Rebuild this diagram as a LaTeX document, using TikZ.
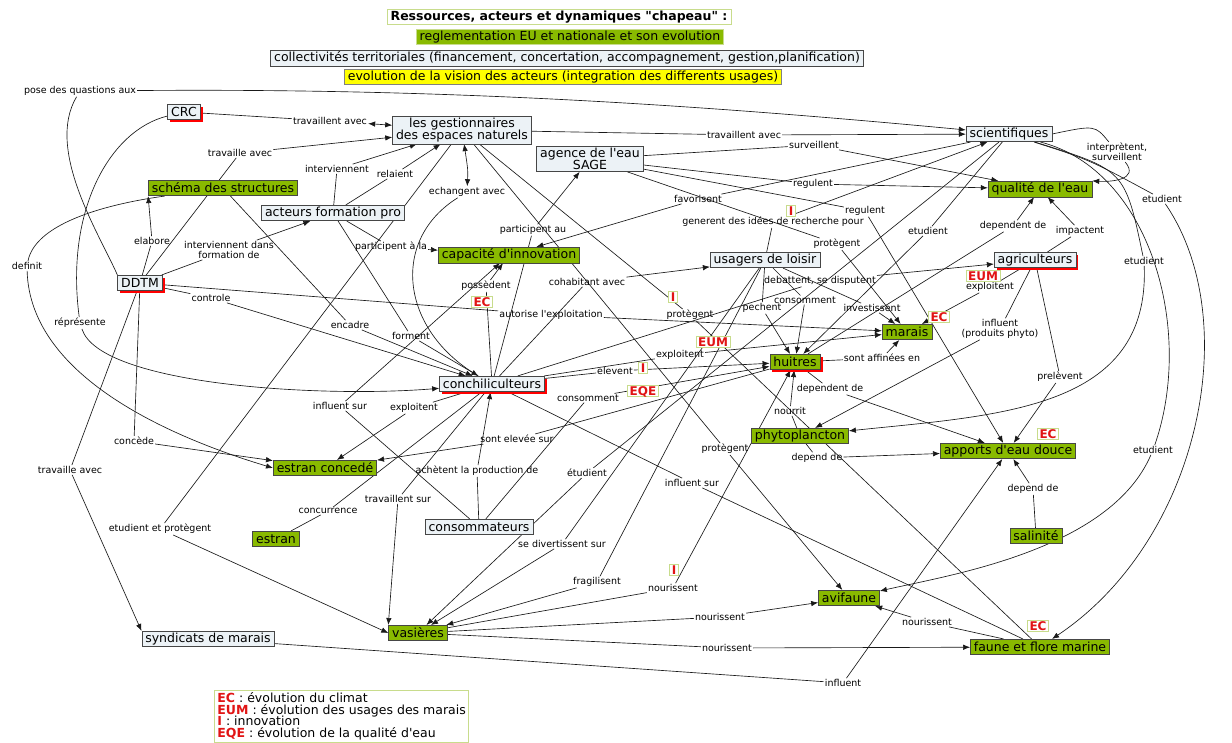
\documentclass[tikz,border=0pt]{standalone}
\usepackage{fontspec}
\setmainfont{DejaVu Sans}[Ligatures=TeXOff]
\usetikzlibrary{arrows.meta,shadows}

\definecolor{cmgreen}{RGB}{137,186,0}
\definecolor{cmlight}{RGB}{236,242,246}
\definecolor{cmborder}{RGB}{70,70,70}
\definecolor{cmtag}{RGB}{200,220,140}
\definecolor{cmred}{RGB}{225,20,20}
\definecolor{cmyellow}{RGB}{255,255,0}

\newcommand{\cmnodefont}{\fontsize{12.5}{12.5}\selectfont}
\newcommand{\cmlinkfont}{\fontsize{9.5}{10}\selectfont}
\newcommand{\cmtagfont}{\fontsize{12}{12}\selectfont\bfseries}
\newcommand{\cmlegendfont}{\fontsize{12.5}{11.7}\selectfont\lineskiplimit=-6pt}

\pgfdeclarelayer{bg}
\pgfsetlayers{bg,main}

\tikzset{
  concept/.style={draw=cmborder, line width=0.6pt, inner xsep=3.5pt, inner ysep=1.5pt,
    minimum height=15.5pt, font=\cmnodefont},
  greenbox/.style={concept, fill=cmgreen},
  greybox/.style={concept, fill=cmlight},
  redshadow/.style={drop shadow={shadow xshift=2.5pt, shadow yshift=-2.5pt, fill=red, opacity=1}},
  linklabel/.style={font=\cmlinkfont, inner sep=1pt, align=center},
  tagbox/.style={draw=cmtag, fill=white, text=cmred, font=\cmtagfont, line width=0.8pt,
    inner xsep=2pt, inner ysep=1pt, text height=8.8pt, text depth=0pt},
  link/.style={draw=black!90, line width=0.65pt, ->, >={Latex[length=7pt,width=5.5pt]}},
  bilink/.style={link, <->},
  plainlink/.style={draw=black!90, line width=0.65pt},
}

\begin{document}
\begin{tikzpicture}[x=1pt, y=-1pt]
  \useasboundingbox (0,0) rectangle (1232,742);

  % chapeau
  \node[concept, draw=cmtag, fill=white, font=\cmnodefont\bfseries] (title) at (559,17) {Ressources, acteurs et dynamiques "chapeau" :};
  \node[concept, draw=cmtag, fill=cmgreen] (regl) at (570,37) {reglementation EU et nationale et son evolution};
  \node[greybox] (collect) at (567,58) {collectivités territoriales (financement, concertation, accompagnement, gestion,planification)};
  \node[concept, draw=black!50, fill=cmyellow] (vision) at (563,77) {evolution de la vision des acteurs (integration des differents usages)};

  % acteurs
  \node[greybox, redshadow] (crc) at (184,112) {CRC};
  \node[greybox, align=center] (gest) at (462,130) {les gestionnaires\\des espaces naturels};
  \node[greybox, align=center] (agence) at (590,159) {agence de l'eau\\SAGE};
  \node[greybox] (sci) at (1009,134) {scientifiques};
  \node[greybox] (form) at (333,213) {acteurs formation pro};
  \node[greybox] (loisir) at (765,260) {usagers de loisir};
  \node[greybox, redshadow] (agri) at (1035,260) {agriculteurs};
  \node[greybox, redshadow] (ddtm) at (140,283) {DDTM};
  \node[greybox, redshadow] (conch) at (492,384) {conchiliculteurs};
  \node[greybox] (conso) at (479,527) {consommateurs};
  \node[greybox] (synd) at (208,639) {syndicats de marais};

  % ressources
  \node[greenbox] (qual) at (1040,189) {qualité de l'eau};
  \node[greenbox] (schema) at (223,188) {schéma des structures};
  \node[greenbox] (innov) at (509,255) {capacité d'innovation};
  \node[greenbox] (marais) at (907,332) {marais};
  \node[greenbox, redshadow] (huitres) at (795,362) {huitres};
  \node[greenbox] (phyto) at (800,436) {phytoplancton};
  \node[greenbox] (apports) at (1008,451) {apports d'eau douce};
  \node[greenbox] (estranc) at (325,468) {estran concedé};
  \node[greenbox] (estran) at (276,539) {estran};
  \node[greenbox] (sal) at (1036,536) {salinité};
  \node[greenbox] (avi) at (849,598) {avifaune};
  \node[greenbox] (vas) at (418,633) {vasières};
  \node[greenbox] (faune) at (1040,647) {faune et flore marine};

  % link labels
  \node[linklabel] (lpose) at (80,91) {pose des quastions aux};
  \node[linklabel] (ltrava) at (330,121) {travaillent avec};
  \node[linklabel] (ltravb) at (240,153) {travaille avec};
  \node[linklabel] (linterv) at (337,169) {interviennent};
  \node[linklabel] (lrelai) at (395,174) {relaient};
  \node[linklabel] (lechan) at (467,192) {echangent avec};
  \node[linklabel] (ltravc) at (744,135) {travaillent avec};
  \node[linklabel] (lsurv) at (814,145) {surveillent};
  \node[linklabel] (lregula) at (813,184) {regulent};
  \node[linklabel] (lregulb) at (865,211) {regulent};
  \node[linklabel] (lfavor) at (698,199) {favorisent};
  \node[linklabel] (lgener) at (773,222) {generent des idées de recherche pour};
  \node[linklabel] (lprota) at (837,244) {protègent};
  \node[linklabel] (linterp) at (1117,152) {interprètent,\\surveillent};
  \node[linklabel] (letuda) at (1162,199) {etudient};
  \node[linklabel] (letudb) at (1144,261) {etudient};
  \node[linklabel] (letudc) at (1153,450) {etudient};
  \node[linklabel] (letudd) at (928,231) {etudient};
  \node[linklabel] (ldepa) at (1013,226) {dependent de};
  \node[linklabel] (limpac) at (1080,231) {impactent};
  \node[linklabel] (lexpla) at (990,287) {exploitent};
  \node[linklabel] (linflu) at (1000,329) {influent\\(produits phyto)};
  \node[linklabel] (lprele) at (1060,377) {prelèvent};
  \node[linklabel] (lelab) at (152,241) {elabore};
  \node[linklabel] (lintfo) at (229,250) {interviennent dans\\formation de};
  \node[linklabel] (ldefin) at (27,266) {definit};
  \node[linklabel] (lrepr) at (80,323) {réprésente};
  \node[linklabel] (lcontr) at (211,298) {controle};
  \node[linklabel] (lencad) at (350,325) {encadre};
  \node[linklabel] (lforme) at (411,336) {forment};
  \node[linklabel] (lparta) at (391,247) {participent à la};
  \node[linklabel] (lpartb) at (533,230) {participent au};
  \node[linklabel] (lposse) at (486,286) {possèdent};
  \node[linklabel] (lautor) at (551,315) {autorise l'exploitation};
  \node[linklabel] (lcohab) at (587,282) {cohabitant avec};
  \node[linklabel] (ldebat) at (820,281) {debattent, se disputent};
  \node[linklabel] (lpeche) at (762,308) {pechent};
  \node[linklabel] (lconsa) at (805,300) {consomment};
  \node[linklabel] (linves) at (872,308) {investissent};
  \node[linklabel] (lprotb) at (690,315) {protègent};
  \node[linklabel] (lexplb) at (680,355) {exploitent};
  \node[linklabel] (lelev) at (615,371) {elevent};
  \node[linklabel] (lconsb) at (588,398) {consomment};
  \node[linklabel] (laffin) at (882,358) {sont affinées en};
  \node[linklabel] (ldepb) at (830,389) {dependent de};
  \node[linklabel] (lnourr) at (790,411) {nourrit};
  \node[linklabel] (ldepc) at (817,458) {depend de};
  \node[linklabel] (lprotc) at (725,449) {protègent};
  \node[linklabel] (linflb) at (692,483) {influent sur};
  \node[linklabel] (lexplc) at (414,408) {exploitent};
  \node[linklabel] (linflc) at (340,406) {influent sur};
  \node[linklabel] (lelevee) at (517,439) {sont elevée sur};
  \node[linklabel] (lachat) at (477,471) {achètent la production de};
  \node[linklabel] (ltravd) at (398,499) {travaillent sur};
  \node[linklabel] (lconcu) at (328,511) {concurrence};
  \node[linklabel] (letprot) at (160,529) {etudient et protègent};
  \node[linklabel] (ldiver) at (562,544) {se divertissent sur};
  \node[linklabel] (letude) at (587,473) {étudient};
  \node[linklabel] (lfragi) at (597,582) {fragilisent};
  \node[linklabel] (lnoura) at (673,588) {nourissent};
  \node[linklabel] (lnourb) at (720,617) {nourissent};
  \node[linklabel] (lnourc) at (727,648) {nourissent};
  \node[linklabel] (lnourd) at (927,622) {nourissent};
  \node[linklabel] (linfld) at (843,683) {influent};
  \node[linklabel] (ldepd) at (1033,489) {depend de};
  \node[linklabel] (ltrave) at (70,470) {travaille avec};
  \node[linklabel] (lconce) at (134,441) {concède};

  % connectors
  \begin{pgfonlayer}{bg}
    \draw[link] (ddtm.north west) .. controls (100,235) and (45,150) .. (lpose) .. controls (450,88) and (700,105) .. (sci);
    \draw[bilink] (crc) -- (ltrava) -- (gest);
    \draw[link] (ddtm) -- (ltravb) -- (gest);
    \draw[link] (form) -- (linterv) -- (gest);
    \draw[link] (form) -- (lrelai) -- (gest);
    \draw[bilink] (conch) .. controls (400,330) and (390,240) .. (lechan) .. controls (468,170) .. (gest);
    \draw[link] (gest) -- (ltravc) -- (sci);
    \draw[link] (agence) -- (lsurv) -- (qual);
    \draw[link] (agence) -- (lregula) -- (qual);
    \draw[link] (agence) -- (lregulb) -- (apports);
    \draw[link] (sci) -- (lfavor) -- (innov);
    \draw[link] (loisir) -- (lgener) -- (sci);
    \draw[link] (agence) -- (lprota) -- (marais);
    \draw[link] (sci.east) .. controls (1095,125) .. (linterp) .. controls (1140,180) and (1110,182) .. (qual.north east);
    \draw[link] (sci) .. controls (1090,160) .. (letuda) .. controls (1245,320) and (1200,540) .. (faune);
    \draw[link] (sci) .. controls (1125,170) .. (letudb) .. controls (1150,410) and (1000,415) .. (phyto);
    \draw[link] (sci) .. controls (1150,170) and (1195,330) .. (letudc) .. controls (1110,550) and (950,575) .. (avi);
    \draw[link] (sci) -- (letudd) -- (huitres);
    \draw[link] (huitres) -- (ldepa) -- (qual);
    \draw[link] (agri) -- (limpac) -- (qual);
    \draw[link] (agri) -- (lexpla) -- (marais);
    \draw[link] (agri) -- (linflu) -- (phyto);
    \draw[link] (agri) -- (lprele) -- (apports);
    \draw[link] (ddtm) -- (lelab) -- (schema.south west);
    \draw[link] (ddtm) -- (lintfo) -- (form);
    \draw[link] (schema) .. controls (100,205) and (35,225) .. (ldefin) .. controls (30,380) and (180,440) .. (estranc.west);
    \draw[link] (crc) .. controls (110,130) and (65,210) .. (lrepr) .. controls (100,385) and (320,398) .. (conch);
    \draw[link] (ddtm) -- (lcontr) -- (conch);
    \draw[link] (schema) -- (lencad) -- (conch);
    \draw[link] (form) -- (lforme) -- (conch);
    \draw[link] (form) -- (lparta) -- (innov);
    \draw[link] (conch) -- (lpartb) -- (agence);
    \draw[link] (conch) -- (lposse) -- (innov);
    \draw[link] (ddtm) -- (lautor) -- (marais);
    \draw[link] (conch) -- (lcohab) -- (loisir);
    \draw[link] (conch) -- (ldebat) -- (agri);
    \draw[link] (loisir) -- (lpeche) -- (huitres);
    \draw[link] (loisir) -- (lconsa) -- (huitres);
    \draw[link] (loisir) -- (linves) -- (marais);
    \draw[plainlink] (gest) -- (lprotb) -- (faune);
    \draw[link] (conch) -- (lexplb) -- (marais);
    \draw[link] (conch) -- (lelev) -- (huitres);
    \draw[link] (conso) -- (lconsb) -- (huitres);
    \draw[link] (huitres) -- (laffin) -- (marais);
    \draw[link] (huitres) -- (ldepb) -- (apports);
    \draw[link] (phyto) -- (lnourr) -- (huitres);
    \draw[link] (phyto) -- (ldepc) -- (apports);
    \draw[link] (gest) -- (lprotc) -- (avi);
    \draw[plainlink] (conch) -- (linflb) -- (faune);
    \draw[link] (conch) -- (lexplc) -- (estranc);
    \draw[link] (conso) -- (linflc) -- (innov);
    \draw[link] (huitres) -- (lelevee) -- (estranc);
    \draw[link] (conso) -- (lachat) -- (conch);
    \draw[link] (conch) -- (ltravd) -- (vas.north west);
    \draw[plainlink] (estran) -- (lconcu) -- (conch);
    \draw[link] (gest) -- (letprot) -- (vas.west);
    \draw[link] (loisir) -- (ldiver) -- (vas);
    \draw[link] (sci) -- (letude) -- (vas);
    \draw[link] (loisir) -- (lfragi) -- (vas);
    \draw[link] (vas) -- (lnoura) -- (huitres);
    \draw[link] (vas) -- (lnourb) -- (avi);
    \draw[link] (vas) -- (lnourc) -- (faune);
    \draw[link] (faune) -- (lnourd) -- (avi);
    \draw[link] (synd) -- (linfld) -- (apports);
    \draw[link] (sal) -- (ldepd) -- (apports);
    \draw[link] (ddtm) -- (ltrave) -- (synd.north west);
    \draw[link] (ddtm) -- (lconce) -- (estranc);
  \end{pgfonlayer}

  % dynamiques
  \node[tagbox] (tia) at (791,211) {I};
  \node[tagbox] (teca) at (482,302) {EC};
  \node[tagbox] (tib) at (673,297) {I};
  \node[tagbox] (tecb) at (939,317) {EC};
  \node[tagbox] (teuma) at (983,276) {EUM};
  \node[tagbox] (teumb) at (713,342) {EUM};
  \node[tagbox] (tic) at (643,368) {I};
  \node[tagbox] (teqe) at (643,391) {EQE};
  \node[tagbox] (tecc) at (1048,434) {EC};
  \node[tagbox] (tid) at (674,570) {I};
  \node[tagbox] (tecd) at (1038,626) {EC};

  % legende
  \node[draw=cmtag, fill=white, line width=0.8pt, font=\cmlegendfont, align=left,
    inner xsep=3pt, inner ysep=2pt, anchor=north west] (legend) at (214,690)
    {\textcolor{cmred}{\bfseries EC} : évolution du climat\\
     \textcolor{cmred}{\bfseries EUM} : évolution des usages des marais\\
     \textcolor{cmred}{\bfseries I} : innovation\\
     \textcolor{cmred}{\bfseries EQE} : évolution de la qualité d'eau};
\end{tikzpicture}
\end{document}
